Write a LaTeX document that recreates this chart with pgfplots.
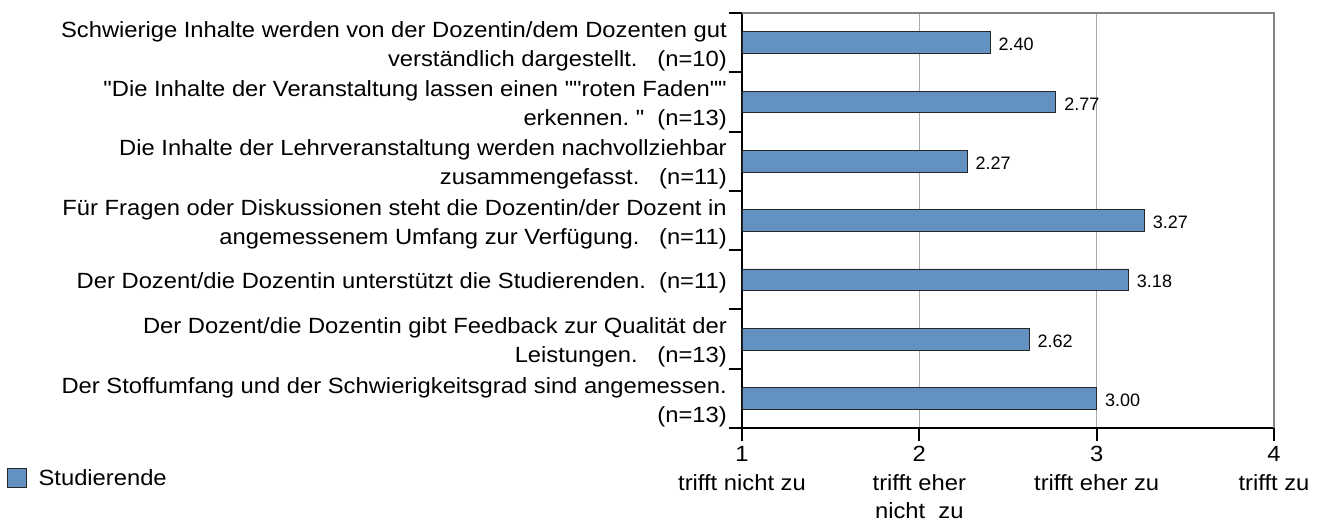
\documentclass[border=0pt]{standalone}
\usepackage{fontspec}
\setmainfont{Liberation Sans}[FakeStretch=1.08, Ligatures=TeXOff]
\newfontfamily\valfont{Liberation Sans}
\usepackage{pgfplots}
\pgfplotsset{compat=1.18}
\definecolor{barc}{RGB}{98,145,194}
\definecolor{gridc}{RGB}{170,170,170}
\definecolor{framec}{RGB}{130,130,130}
\begin{document}
\begin{tikzpicture}
\useasboundingbox (-742pt,-99pt) rectangle (582pt,428pt);
\begin{axis}[
  name=ax,
  scale only axis, width=532pt, height=415pt,
  xbar, bar width=21.7pt,
  xmin=1, xmax=4, ymin=-0.5, ymax=6.5,
  axis lines*=left,
  axis line style={line width=2.5pt, black},
  tick align=outside,
  major tick length=13pt, minor tick length=13pt,
  xtick={1,2,3,4},
  xticklabels={{1\\trifft nicht zu},{2\\trifft eher\\nicht\ \ zu},{3\\trifft eher zu},{4\\trifft zu}},
  xticklabel style={align=center, font=\fontsize{22}{28.5}\selectfont, yshift=-2pt},
  xtick style={black, line width=2pt},
  ytick={0,...,6},
  yticklabels={
    {Der Stoffumfang und der Schwierigkeitsgrad sind angemessen.\\(n=13)},
    {Der Dozent/die Dozentin gibt Feedback zur Qualität der\\Leistungen.\ \ \ (n=13)},
    {Der Dozent/die Dozentin unterstützt die Studierenden.\ \ (n=11)},
    {Für Fragen oder Diskussionen steht die Dozentin/der Dozent in\\angemessenem Umfang zur Verfügung.\ \ \ (n=11)},
    {Die Inhalte der Lehrveranstaltung werden nachvollziehbar\\zusammengefasst.\ \ \ (n=11)},
    {"Die Inhalte der Veranstaltung lassen einen ""roten Faden""\\erkennen.\ "\ \ (n=13)},
    {Schwierige Inhalte werden von der Dozentin/dem Dozenten gut\\verständlich dargestellt.\ \ \ (n=10)}
  },
  yticklabel style={align=right, font=\fontsize{22}{29}\selectfont, inner sep=0pt, xshift=-2pt, yshift=-3.5pt},
  major y tick style={draw=none},
  minor ytick={-0.5,0.5,...,6.5},
  minor y tick style={black, line width=2pt},
  xmajorgrids,
  grid style={gridc, line width=1pt},
  legend style={at={(-1.3872,-0.1205)}, anchor=west, draw=none, fill=none,
    font=\fontsize{22}{26}\selectfont, legend cell align=left},
]
\addplot[fill=barc, draw=black!85, line width=0.8pt,
  point meta=x,
  nodes near coords={\pgfmathprintnumber[fixed, fixed zerofill, precision=2, assume math mode=true]{\pgfplotspointmeta}},
  every node near coord/.append style={anchor=west, inner sep=0pt, xshift=8pt, yshift=-2pt, font=\valfont\fontsize{18}{20}\selectfont, black},
  legend image code/.code={\draw[fill=barc, draw=black!85, line width=0.8pt] (0pt,-9.5pt) rectangle (19pt,9.5pt); \path[draw=none, fill=none] (0pt,0pt) -- (29pt,0pt);}
] coordinates {(3.00,0) (2.62,1) (3.18,2) (3.27,3) (2.27,4) (2.77,5) (2.40,6)};
\addlegendentry{Studierende}
\end{axis}
\draw[framec, line width=2pt] (ax.south east) -- (ax.north east) -- (ax.north west);
\end{tikzpicture}
\end{document}
